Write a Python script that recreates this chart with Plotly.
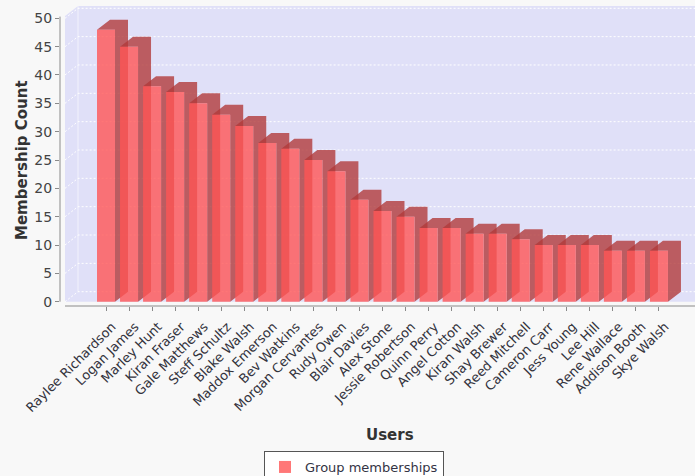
import plotly.graph_objects as go

# ---------------- data ----------------
users = ["Raylee Richardson", "Logan James", "Marley Hunt", "Kiran Fraser", "Gale Matthews",
         "Steff Schultz", "Blake Walsh", "Maddox Emerson", "Bev Watkins", "Morgan Cervantes",
         "Rudy Owen", "Blair Davies", "Alex Stone", "Jessie Robertson", "Quinn Perry",
         "Angel Cotton", "Kiran Walsh", "Shay Brewer", "Reed Mitchell", "Cameron Carr",
         "Jess Young", "Lee Hill", "Rene Wallace", "Addison Booth", "Skye Walsh"]
memberships = [48, 45, 38, 37, 35, 33, 31, 28, 27, 25, 23, 18, 16, 15, 13, 13, 12, 12, 11, 10,
               10, 10, 9, 9, 9]
y_ticks = [0, 5, 10, 15, 20, 25, 30, 35, 40, 45, 50]
series_name = "Group memberships"

# ---------------- geometry (pixel-calibrated) ----------------
W, H = 695, 476
ML, MR, MT, MB = 60, 0, 6, 170
PX_PER_CAT = 23.04
CAT0_PX = 106.0
PX_PER_UNIT = 5.668
ZERO_PX = 301.7
plot_bottom = H - MB

x_min = (ML - CAT0_PX) / PX_PER_CAT
x_max = (W - MR - CAT0_PX) / PX_PER_CAT
y_min = -(plot_bottom - ZERO_PX) / PX_PER_UNIT
y_max = (ZERO_PX - MT) / PX_PER_UNIT

DX = 13 / PX_PER_CAT      # 3D depth offsets in data units
DY = 10 / PX_PER_UNIT
BW = 18 / PX_PER_CAT
x_wall = (65 - CAT0_PX) / PX_PER_CAT

front_col = "rgba(255,85,85,0.8)"
dark_col = "rgba(178,59,59,0.8)"

fig = go.Figure()

xs = list(range(len(users)))

# side + top faces, one trace per bar so later bars paint over earlier ones
for i, v in zip(xs, memberships):
    l, r = i - BW / 2, i + BW / 2
    px_ = [r, r + DX, r + DX, r, r, None, l, r, r + DX, l + DX, l]
    py_ = [0, DY, v + DY, v, 0, None, v, v, v + DY, v + DY, v]
    fig.add_trace(go.Scatter(x=px_, y=py_, mode="lines", fill="toself",
                             fillcolor=dark_col, line=dict(width=0),
                             hoverinfo="skip", showlegend=False))

# front faces on an overlaying axis so they are drawn on top
fig.add_trace(go.Bar(x=xs, y=memberships, width=BW, name=series_name,
                     marker=dict(color=front_col, line=dict(width=0)),
                     xaxis="x2", yaxis="y2", showlegend=True))

shapes = []
# lavender walls
wall_path = (f"M {x_wall},0 L {x_wall},{y_max - DY} L {x_wall + DX},{y_max} "
             f"L {x_max + 1},{y_max} L {x_max + 1},0 Z")
shapes.append(dict(type="path", path=wall_path, xref="x", yref="y",
                   fillcolor="#E0E0F8", line=dict(width=0), layer="below"))
# back wall corner
shapes.append(dict(type="line", xref="x", yref="y", x0=x_wall + DX, x1=x_wall + DX,
                   y0=DY, y1=y_max, line=dict(color="rgba(255,255,255,0.6)", width=1),
                   layer="below"))
# dashed gridlines on wall
for t in y_ticks:
    p = f"M {x_wall},{t} L {x_wall + DX},{t + DY} L {x_max + 1},{t + DY}"
    shapes.append(dict(type="path", path=p, xref="x", yref="y",
                       line=dict(color="white", width=1, dash="2px,2px"), layer="below"))
# axis lines
shapes.append(dict(type="line", xref="paper", yref="y", x0=0, x1=0, y0=0, y1=50.3,
                   line=dict(color="#8a8a8a", width=1)))
shapes.append(dict(type="line", xref="x", yref="paper", x0=x_wall, x1=x_max + 1, y0=0, y1=0,
                   line=dict(color="#8a8a8a", width=1)))

x_tick_font = dict(family="DejaVu Sans", size=13, color="#33333d")
y_tick_font = dict(family="DejaVu Sans", size=14, color="#444444")

fig.update_layout(
    width=W, height=H,
    margin=dict(l=ML, r=MR, t=MT, b=MB, autoexpand=False),
    paper_bgcolor="#F8F8F8", plot_bgcolor="#F8F8F8",
    shapes=shapes,
    xaxis=dict(range=[x_min, x_max], tickmode="array", tickvals=xs, ticktext=users,
               tickangle=-45, tickfont=x_tick_font, ticks="outside", ticklen=4,
               tickcolor="#8a8a8a", showgrid=False, zeroline=False, showline=False,
               automargin=False, fixedrange=True, ticklabelshift=6, ticklabelstandoff=3),
    yaxis=dict(range=[y_min, y_max], tickmode="array", tickvals=y_ticks,
               tickfont=y_tick_font, ticks="outside", ticklen=4, tickcolor="#8a8a8a",
               showgrid=False, zeroline=False, showline=False, automargin=False),
    xaxis2=dict(range=[x_min, x_max], overlaying="x", visible=False),
    yaxis2=dict(range=[y_min, y_max], overlaying="y", visible=False),
    showlegend=True,
    legend=dict(x=(264 - ML) / (W - ML - MR), xanchor="left",
                y=(plot_bottom - 451) / (plot_bottom - MT), yanchor="top",
                bgcolor="white", bordercolor="#555555", borderwidth=1,
                font=dict(family="DejaVu Sans", size=13, color="#333344")),
    annotations=[
        dict(text="<b>Membership Count</b>", x=22, y=160, xref="paper", yref="paper",
             showarrow=False, textangle=-90,
             font=dict(family="DejaVu Sans", size=15, color="#333333")),
        dict(text="<b>Users</b>", x=390, y=435, xref="paper", yref="paper",
             showarrow=False, font=dict(family="DejaVu Sans", size=15, color="#333333")),
    ],
)

# convert annotation pixel positions to paper coords
pw = W - ML - MR
ph = plot_bottom - MT
for a in fig.layout.annotations:
    a.x = (a.x - ML) / pw
    a.y = (plot_bottom - a.y) / ph
    a.xanchor = "center"
    a.yanchor = "middle"

fig.write_html("out.html")
